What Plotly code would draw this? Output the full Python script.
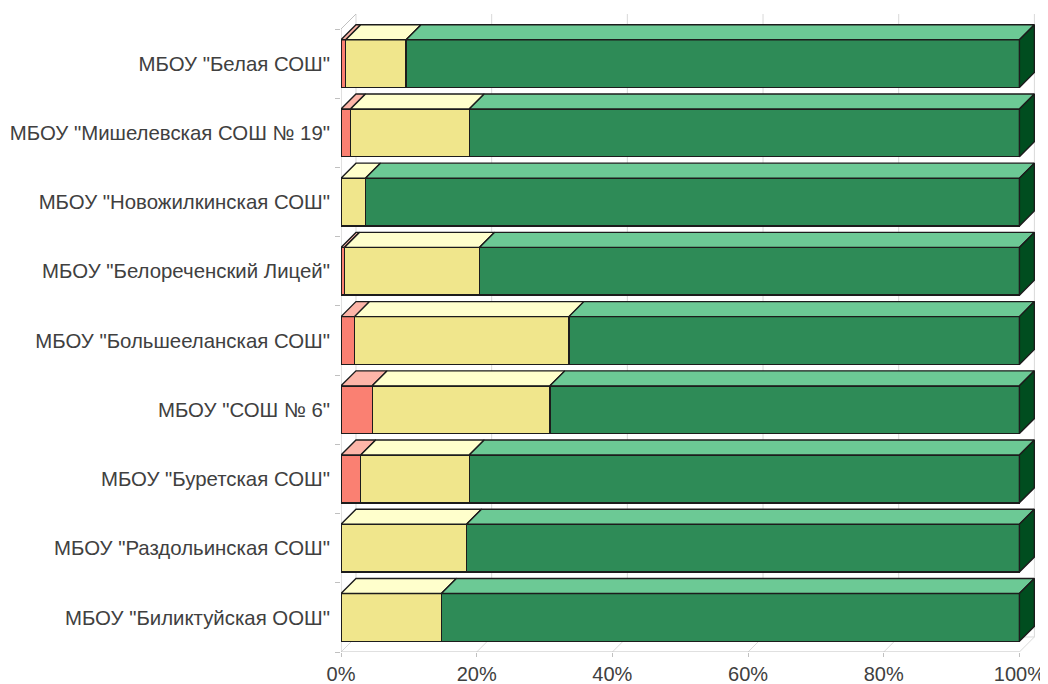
import plotly.graph_objects as go

# ---- data (percent of pupils) ----
schools = [
    'МБОУ "Белая СОШ"',
    'МБОУ "Мишелевская СОШ № 19"',
    'МБОУ "Новожилкинская СОШ"',
    'МБОУ "Белореченский Лицей"',
    'МБОУ "Большееланская СОШ"',
    'МБОУ "СОШ № 6"',
    'МБОУ "Буретская СОШ"',
    'МБОУ "Раздольинская СОШ"',
    'МБОУ "Биликтуйская ООШ"',
]
red_vals = [0.7, 1.4, 0.0, 0.5, 2.0, 4.6, 2.9, 0.0, 0.0]
yellow_vals = [8.9, 17.5, 3.6, 19.9, 31.6, 26.2, 16.0, 18.5, 14.8]
green_vals = [90.4, 81.1, 96.4, 79.6, 66.4, 69.2, 81.1, 81.5, 85.2]
x_ticks = [0, 20, 40, 60, 80, 100]
x_tick_text = ["0%", "20%", "40%", "60%", "80%", "100%"]

series = [
    dict(vals=red_vals, front="#FA8072", top="#FDB5A8"),
    dict(vals=yellow_vals, front="#F0E68C", top="#FFFFCC"),
    dict(vals=green_vals, front="#2E8B57", top="#6CC995", side="#004D1F"),
]

# ---- geometry of the pseudo-3D look (in axis units) ----
DX = 2.21        # depth along x (percent)
DY = 0.217       # depth along y (category units)
BAR_W = 0.69
OUT = "#1C1C1C"
GRID = "#D9D9D9"
AXC = "#C0C0C0"
TXT = "#404040"
FONT = "Liberation Sans, Arial, sans-serif"
FS = 20.4

pos = list(range(len(schools)))
n = len(schools)
y_front_top = -0.5
y_front_bot = n - 0.5

fig = go.Figure()

# front faces as real bars
for s in series:
    fig.add_trace(go.Bar(
        y=pos, x=[v if v > 0 else None for v in s["vals"]],
        orientation="h", width=BAR_W,
        marker=dict(color=s["front"], line=dict(color=OUT, width=1.4)),
        hoverinfo="skip", showlegend=False,
    ))

# top faces and right side faces
cum = [0.0] * n
for k, s in enumerate(series):
    xs, ys = [], []
    sx, sy = [], []
    for i, v in enumerate(s["vals"]):
        x0 = cum[i]
        x1 = x0 + v
        cum[i] = x1
        if v <= 0:
            continue
        yt = pos[i] - BAR_W / 2
        yb = pos[i] + BAR_W / 2
        xs += [x0, x1, x1 + DX, x0 + DX, x0, None]
        ys += [yt, yt, yt - DY, yt - DY, yt, None]
        if k == len(series) - 1:
            sx += [x1, x1 + DX, x1 + DX, x1, x1, None]
            sy += [yt, yt - DY, yb - DY, yb, yt, None]
    fig.add_trace(go.Scatter(
        x=xs, y=ys, mode="lines", fill="toself", fillcolor=s["top"],
        line=dict(color=OUT, width=1.4), hoverinfo="skip", showlegend=False,
    ))
    if sx:
        fig.add_trace(go.Scatter(
            x=sx, y=sy, mode="lines", fill="toself", fillcolor=s["side"],
            line=dict(color=OUT, width=1.4), hoverinfo="skip", showlegend=False,
        ))

# walls / floor / gridlines drawn below the data
shapes = []
for t in x_ticks:
    shapes.append(dict(type="line", xref="x", yref="y", layer="below",
                       x0=t + DX, x1=t + DX, y0=y_front_bot - DY, y1=y_front_top - DY,
                       line=dict(color=GRID, width=1)))
    shapes.append(dict(type="line", xref="x", yref="y", layer="below",
                       x0=t, x1=t + DX, y0=y_front_bot, y1=y_front_bot - DY,
                       line=dict(color=GRID, width=1)))
shapes.append(dict(type="line", xref="x", yref="y", layer="below",
                   x0=0, x1=100, y0=y_front_bot, y1=y_front_bot,
                   line=dict(color=AXC, width=1)))
shapes.append(dict(type="line", xref="x", yref="y", layer="below",
                   x0=DX, x1=100 + DX, y0=y_front_bot - DY, y1=y_front_bot - DY,
                   line=dict(color=GRID, width=1)))
shapes.append(dict(type="line", xref="x", yref="y", layer="below",
                   x0=0, x1=0, y0=y_front_top, y1=y_front_bot,
                   line=dict(color=AXC, width=1)))
shapes.append(dict(type="line", xref="x", yref="y", layer="below",
                   x0=0, x1=DX, y0=y_front_top, y1=y_front_top - DY,
                   line=dict(color=AXC, width=1)))

# page body has an 8px margin, so the figure is sized/placed to compensate
fig.update_layout(
    barmode="stack",
    width=1040, height=676,
    margin=dict(l=333, r=13, t=6, b=32, pad=0, autoexpand=False),
    paper_bgcolor="white", plot_bgcolor="white",
    shapes=shapes,
    showlegend=False,
    hovermode=False,
    font=dict(family=FONT, size=FS, color=TXT),
    xaxis=dict(
        range=[0, 100 + DX + 0.09], showgrid=False, zeroline=False, showline=False,
        tickvals=x_ticks, ticktext=x_tick_text, automargin=False,
        ticks="outside", ticklen=4, tickcolor=AXC, tickwidth=1,
        tickfont=dict(family=FONT, size=FS - 0.4, color=TXT),
        fixedrange=True,
    ),
    yaxis=dict(
        range=[y_front_bot, y_front_top - DY], showgrid=False, zeroline=False,
        showline=False, automargin=False,
        tickvals=pos, ticktext=schools, ticks="", ticklabelstandoff=10,
        tickfont=dict(family=FONT, size=FS, color=TXT),
        minor=dict(tickvals=[p - 0.5 for p in pos] + [n - 0.5], ticks="outside",
                   ticklen=5, tickcolor=AXC, tickwidth=1, showgrid=False),
        fixedrange=True,
    ),
)

fig.write_html("out.html")
